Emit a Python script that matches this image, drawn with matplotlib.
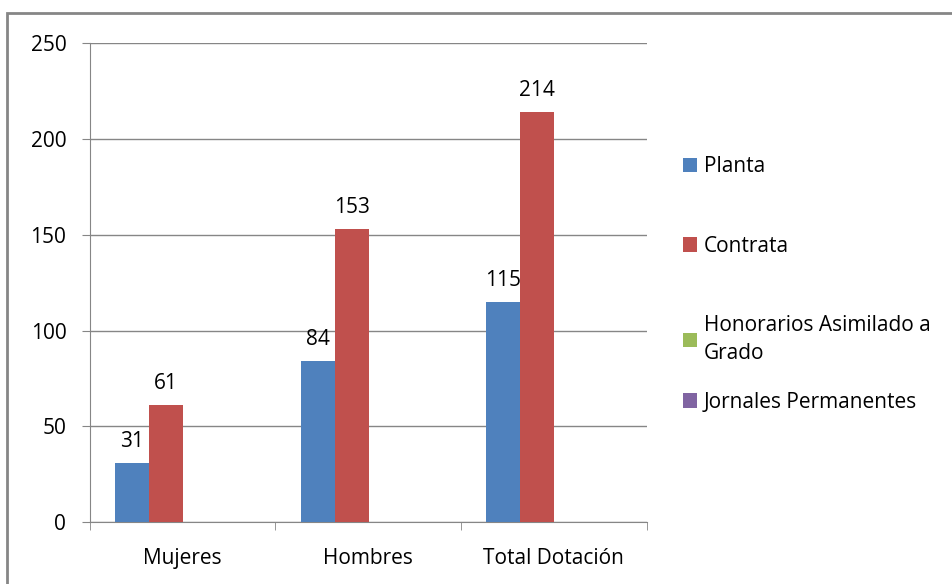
import numpy as np
import matplotlib
matplotlib.use("Agg")
import matplotlib.pyplot as plt
from matplotlib.patches import Rectangle

plt.rcParams['font.family'] = ['Open Sans', 'DejaVu Sans']

# datos
categorias = ['Mujeres', 'Hombres', 'Total Dotación']
planta = [31, 84, 115]
contrata = [61, 153, 214]
honorarios = [0, 0, 0]
jornales = [0, 0, 0]
series = ['Planta', 'Contrata', 'Honorarios Asimilado a\nGrado', 'Jornales Permanentes']
colores = ['#4F81BD', '#C0504D', '#9BBB59', '#8064A2']
yticks = [0, 50, 100, 150, 200, 250]

fs = 15
fig = plt.figure(figsize=(9.53, 5.84), dpi=100)
ax = fig.add_axes([0.0944, 0.106, 0.584, 0.820])

# marco exterior del grafico
fig.patches.append(Rectangle((0.0073, -0.05), 1.2, 1.028, transform=fig.transFigure,
                             fill=False, edgecolor='#868686', linewidth=2))

x = np.arange(len(categorias))
w = 0.183
gap = 0.137
valores = [planta, contrata, honorarios, jornales]
barras = []
for i, vals in enumerate(valores):
    pos = x - 0.5 + gap + (i + 0.5) * w
    b = ax.bar(pos, vals, width=w, color=colores[i], label=series[i], zorder=3)
    barras.append(b)
    if i < 2:
        for p, v in zip(pos, vals):
            ax.annotate(str(v), (p, v), xytext=(0, 8), textcoords='offset points',
                        ha='center', va='bottom', fontsize=fs, color='black', zorder=4)

ax.set_xlim(-0.5, 2.5)
ax.set_ylim(0, 250)
ax.set_yticks(yticks)
ax.tick_params(axis='y', labelsize=fs, length=6, color='#868686', pad=11)
ax.set_xticks(x)
ax.set_xticklabels(categorias, fontsize=fs)
ax.tick_params(axis='x', length=0, pad=19)
ax.set_xticks([-0.5, 0.5, 1.5, 2.5], minor=True)
ax.tick_params(axis='x', which='minor', length=6, color='#868686')
ax.grid(axis='y', color='#868686', linewidth=1, zorder=0)
ax.set_axisbelow(True)
for s in ['top', 'right']:
    ax.spines[s].set_visible(False)
for s in ['left', 'bottom']:
    ax.spines[s].set_color('#868686')

# leyenda en dos partes para imitar el espaciado de Excel
opts = dict(loc='upper left', frameon=False, fontsize=fs, handlelength=0.7,
            handleheight=0.7, handletextpad=0.3, borderaxespad=0)
leg = ax.legend(handles=barras[:3], bbox_to_anchor=(1.05, 0.781),
                labelspacing=2.79, **opts)
for t in leg.get_texts():
    t.set_linespacing(1.45)
ax.add_artist(leg)
leg2 = ax.legend(handles=barras[3:], bbox_to_anchor=(1.05, 0.290), **opts)

plt.savefig('out.png', dpi=100)
